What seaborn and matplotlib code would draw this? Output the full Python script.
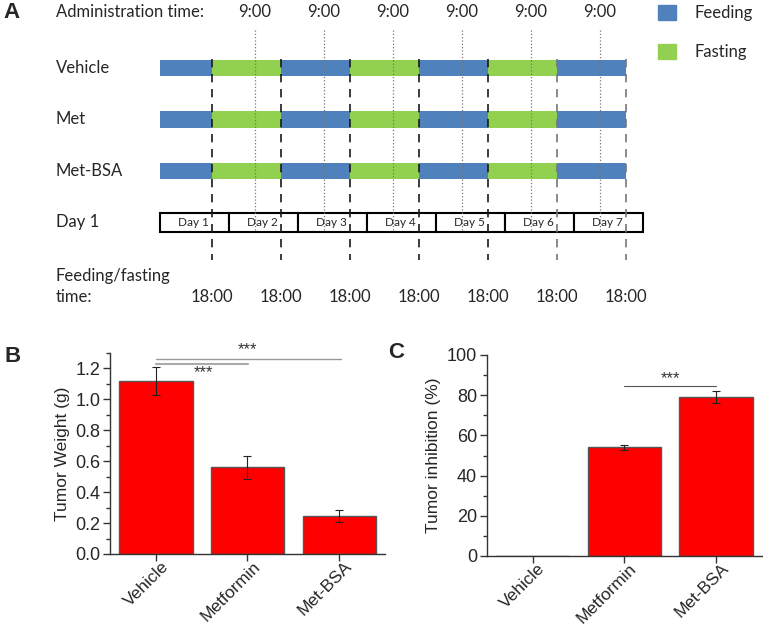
import matplotlib
matplotlib.use('Agg')
import matplotlib.pyplot as plt
from matplotlib.patches import Patch
from matplotlib.ticker import MultipleLocator, FormatStrFormatter
from matplotlib.transforms import ScaledTranslation
import numpy as np
import seaborn as sns

# ---- Panel A: feeding / fasting schedule (hours counted from day 1, 00:00)
groups_a = ['Vehicle', 'Met', 'Met-BSA']
seg_start = [0, 18, 42, 66, 90, 114, 138]
seg_end = [18, 42, 66, 90, 114, 138, 162]
seg_state = ['Feeding', 'Fasting', 'Feeding', 'Fasting', 'Feeding', 'Fasting', 'Feeding']
days = ['Day 1', 'Day 2', 'Day 3', 'Day 4', 'Day 5', 'Day 6', 'Day 7']
admin_hours = [33, 57, 81, 105, 129, 153]
admin_labels = ['9:00', '9:00', '9:00', '9:00', '9:00', '9:00']
switch_hours = [18, 42, 66, 90, 114, 138, 162]
switch_labels = ['18:00', '18:00', '18:00', '18:00', '18:00', '18:00', '18:00']
state_colors = {'Feeding': '#4F81BD', 'Fasting': '#92D050'}

# ---- Panel B: tumor weight
treatments = ['Vehicle', 'Metformin', 'Met-BSA']
weight = [1.12, 0.56, 0.247]
weight_err = [0.09, 0.075, 0.038]

# ---- Panel C: tumor inhibition
inhibition = [0.0, 54.0, 79.0]
inhibition_err = [np.nan, 1.3, 3.0]

sns.set_style('ticks')
plt.rcParams['font.family'] = ['Liberation Sans', 'DejaVu Sans']

W, H = 763, 629
fig = plt.figure(figsize=(W / 100, H / 100), dpi=100)

# ---------------- Panel A
px_per_h = 69 / 24
axA = fig.add_axes([0, 1 - 310 / H, 1, 310 / H])
axA.set_xlim(-160 / px_per_h, (W - 160) / px_per_h)
axA.set_ylim((310 - 68) / 51.5, -68 / 51.5)
axA.axis('off')
fa = 'Lato'
fs = 12

for i, g in enumerate(groups_a):
    for s, e, st in zip(seg_start, seg_end, seg_state):
        axA.barh(i, e - s, left=s, height=0.33, color=state_colors[st], lw=0, zorder=1)
    axA.text(-36.2, i, g, family=fa, fontsize=fs, va='center', ha='left')

for k, d in enumerate(days):
    axA.barh(3, 24, left=24 * k, height=0.35, facecolor='white', edgecolor='black', lw=1.5, zorder=1)
    axA.text(24 * k + 11.5, 3.0, d, family=fa, fontsize=8.5, ha='center', va='center', zorder=4)
axA.text(-36.2, 3, 'Day 1', family=fa, fontsize=fs, va='center')

sw_colors = ['#1a1a1a'] * 5 + ['#777777'] * 2
axA.vlines(switch_hours, -0.17, 3.73, colors=sw_colors, linestyles=[(0, (5, 4))], lw=1.2, zorder=3)
axA.vlines(admin_hours, -0.74, 3.18, colors='#777777', linestyles=':', lw=0.9, zorder=3)

axA.text(-36.2, -1.087, 'Administration time:', family=fa, fontsize=fs, va='center')
for h, lab in zip(admin_hours, admin_labels):
    axA.text(h, -1.087, lab, family=fa, fontsize=fs, ha='center', va='center')
axA.text(-36.2, 4.04, 'Feeding/fasting', family=fa, fontsize=fs, va='center')
axA.text(-36.2, 4.45, 'time:', family=fa, fontsize=fs, va='center')
for h, lab in zip(switch_hours, switch_labels):
    axA.text(h, 4.45, lab, family=fa, fontsize=fs, ha='center', va='center')

handles = [Patch(color=state_colors[s], label=s) for s in ['Feeding', 'Fasting']]
fig.legend(handles=handles, loc='upper left', bbox_to_anchor=(658 / W, 1 - 5 / H),
           frameon=False, handlelength=1.1, handleheight=1.0, labelspacing=1.35,
           handletextpad=1.1, borderpad=0, borderaxespad=0, prop={'family': fa, 'size': fs})

# ---------------- Panels B and C
def style_axis(ax):
    sns.despine(ax=ax)
    for sp in ['left', 'bottom']:
        ax.spines[sp].set_color('#333333')
        ax.spines[sp].set_linewidth(1)
    ax.tick_params(which='major', length=5, width=1, color='#333333', labelsize=13, pad=2)
    ax.tick_params(which='minor', length=3, width=1, color='#333333')
    ax.tick_params(axis='x', which='minor', bottom=False)
    ax.tick_params(axis='x', labelsize=12.5)
    ax.set_xlim(-0.5, 2.5)
    shift = ScaledTranslation(5 / 100, 5 / 100, fig.dpi_scale_trans)
    for t in ax.get_xticklabels():
        t.set_rotation(45)
        t.set_ha('right')
        t.set_rotation_mode('anchor')
        t.set_transform(t.get_transform() + shift)
    ax.set_xlabel('')

axB = fig.add_axes([110 / W, 1 - 554 / H, 275 / W, 201 / H])
sns.barplot(x=treatments, y=weight, color='#FF0000', saturation=1, edgecolor='#555555',
            linewidth=1, width=0.8, ax=axB)
axB.errorbar(np.arange(len(treatments)), weight, yerr=weight_err, fmt='none', ecolor='#222222',
             elinewidth=0.8, capsize=3, capthick=0.8)
axB.set_ylim(0, 1.3)
axB.yaxis.set_major_locator(MultipleLocator(0.2))
axB.yaxis.set_minor_locator(MultipleLocator(0.1))
axB.yaxis.set_major_formatter(FormatStrFormatter('%.1f'))
axB.set_ylabel('Tumor Weight (g)', fontsize=12.5, labelpad=4)
style_axis(axB)
axB.plot([0, 1.01], [1.226, 1.226], color='#aaaaaa', lw=1.5)
axB.text(0.52, 1.17, '***', ha='center', va='center', fontsize=12, color='#333333')
axB.plot([0, 2.02], [1.26, 1.26], color='#999999', lw=1)
axB.text(1.0, 1.32, '***', ha='center', va='center', fontsize=12, color='#333333')

axC = fig.add_axes([486.7 / W, 1 - 556 / H, 275 / W, 201 / H])
sns.barplot(x=treatments, y=inhibition, color='#FF0000', saturation=1, edgecolor='#555555',
            linewidth=1, width=0.8, ax=axC)
axC.errorbar(np.arange(len(treatments)), inhibition, yerr=inhibition_err, fmt='none',
             ecolor='#222222', elinewidth=0.8, capsize=3, capthick=0.8)
axC.set_ylim(0, 100)
axC.yaxis.set_major_locator(MultipleLocator(20))
axC.yaxis.set_minor_locator(MultipleLocator(10))
axC.set_ylabel('Tumor inhibition (%)', fontsize=12.5, labelpad=4)
style_axis(axC)
axC.plot([1, 2], [84.8, 84.8], color='#555555', lw=0.8)
axC.text(1.5, 88, '***', ha='center', va='center', fontsize=12, color='#333333')

fig.text(3 / W, 1 - 13 / H, 'A', fontsize=16, fontweight='bold', va='center')
fig.text(4 / W, 1 - 356 / H, 'B', fontsize=16, fontweight='bold', va='center')
fig.text(388 / W, 1 - 352 / H, 'C', fontsize=16, fontweight='bold', va='center')

fig.savefig('out.png', dpi=100)
